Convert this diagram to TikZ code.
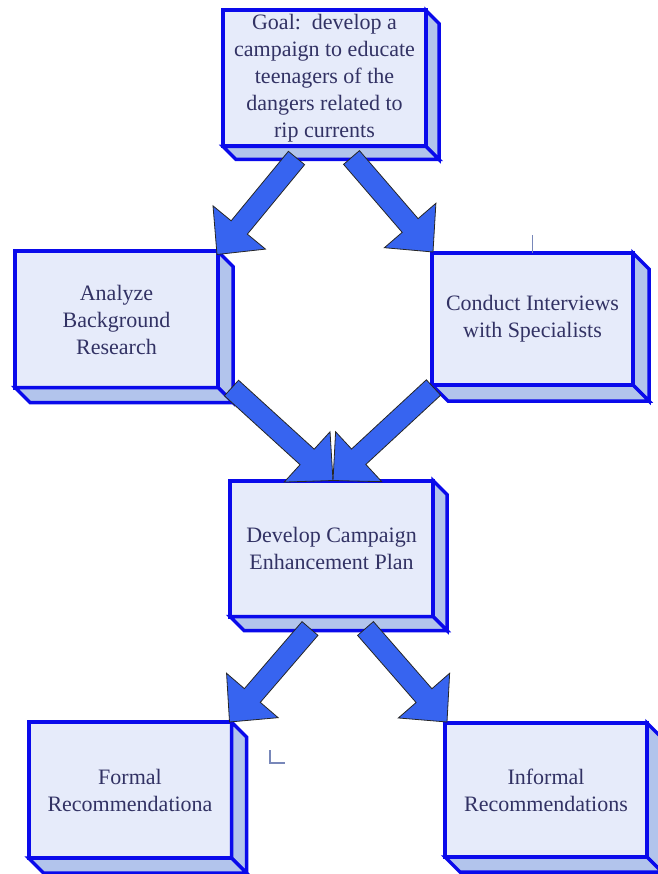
\documentclass[tikz,border=0pt]{standalone}
\usepackage{fontspec}
\setmainfont{Liberation Serif}
\newfontfamily\boxserif{Liberation Serif}
\usetikzlibrary{calc}
\definecolor{boxblue}{RGB}{10,10,235}
\definecolor{frontfill}{RGB}{230,235,250}
\definecolor{sidefill}{RGB}{178,196,236}
\definecolor{txtcol}{RGB}{50,50,100}
\definecolor{arrowfill}{RGB}{55,100,240}
\definecolor{straycol}{RGB}{120,135,185}
\tikzset{
  frontbox/.style={draw=boxblue, line width=4pt, fill=frontfill,
    minimum width=203pt, minimum height=136pt, inner sep=0pt, outer sep=0pt,
    align=center, text=txtcol, font=\boxserif\fontsize{22}{27}\selectfont},
  sideface/.style={draw=boxblue, line width=3.5pt, fill=sidefill, line join=miter},
  barrow/.style={draw=black!85, line width=0.8pt, fill=arrowfill, line join=miter},
  straymark/.style={draw=straycol, line width=1.2pt},
}
\newcommand{\extrude}[2]{%
  \filldraw[sideface] (#1.north east) -- ++(#2,#2) -- ($(#1.south east)+(#2,#2)$) -- (#1.south east) -- cycle;
  \filldraw[sideface] (#1.south west) -- (#1.south east) -- ++(#2,#2) -- ($(#1.south west)+(#2,#2)$) -- cycle;
}
\newcommand{\blockarrow}[2]{%
  \coordinate (ba-h) at ($(#2)!35pt!(#1)$);
  \filldraw[barrow] ($(#1)!10.5pt!90:(#2)$) -- ($(ba-h)!10.5pt!90:(#2)$) -- ($(ba-h)!34pt!90:(#2)$) -- (#2)
    -- ($(ba-h)!34pt!-90:(#2)$) -- ($(ba-h)!10.5pt!-90:(#2)$) -- ($(#1)!10.5pt!-90:(#2)$) -- cycle;
}
\begin{document}
\begin{tikzpicture}[x=1pt, y=-1pt]
  \useasboundingbox[fill=white] (0,0) rectangle (657,874);

  % boxes
  \node[frontbox] (goal) at (324.5,78.5) {Goal:\ \ develop a\\campaign to educate\\teenagers of the\\dangers related to\\rip currents};
  \extrude{goal}{13}
  \node[frontbox] (analyze) at (116.5,319.5) {Analyze\\Background\\Research};
  \extrude{analyze}{15}
  \node[frontbox, minimum width=201pt, minimum height=132pt] (conduct) at (532.5,319) {Conduct Interviews\\with Specialists};
  \extrude{conduct}{16}
  \node[frontbox] (develop) at (331.5,548.5) {Develop Campaign\\Enhancement Plan};
  \extrude{develop}{14}
  \node[frontbox] (formal) at (130,790) {Formal\\Recommendationa};
  \extrude{formal}{15}
  \node[frontbox, minimum width=202pt, minimum height=134pt] (informal) at (546,790) {Informal\\Recommendations};
  \extrude{informal}{15}

  % arrow end points
  \coordinate (s1) at ($(goal.south)+(-28,11.5)$);
  \coordinate (t1) at ($(analyze.north east)+(-1,3)$);
  \coordinate (s2) at ($(goal.south)+(27,11)$);
  \coordinate (t2) at ($(conduct.north west)+(1,-1)$);
  \coordinate (s3) at ($(analyze.south east)+(13.5,0.5)$);
  \coordinate (t3) at ($(develop.north)+(1.5,0)$);
  \coordinate (s4) at ($(conduct.south west)+(1.5,2.5)$);
  \coordinate (t4) at ($(develop.north)+(1.5,0)$);
  \coordinate (s5) at ($(develop.south)+(-21.5,12)$);
  \coordinate (t5) at ($(formal.north east)+(-2,0)$);
  \coordinate (s6) at ($(develop.south)+(34,12)$);
  \coordinate (t6) at ($(informal.north west)+(2,-1)$);

  % arrows
  \blockarrow{s1}{t1}
  \blockarrow{s2}{t2}
  \blockarrow{s3}{t3}
  \blockarrow{s4}{t4}
  \blockarrow{s5}{t5}
  \blockarrow{s6}{t6}

  % stray marks
  \draw[straymark] (conduct.north) -- ++(0,-18);
  \draw[straymark] (270,750) -- (270,763) -- (285,763);
\end{tikzpicture}
\end{document}
